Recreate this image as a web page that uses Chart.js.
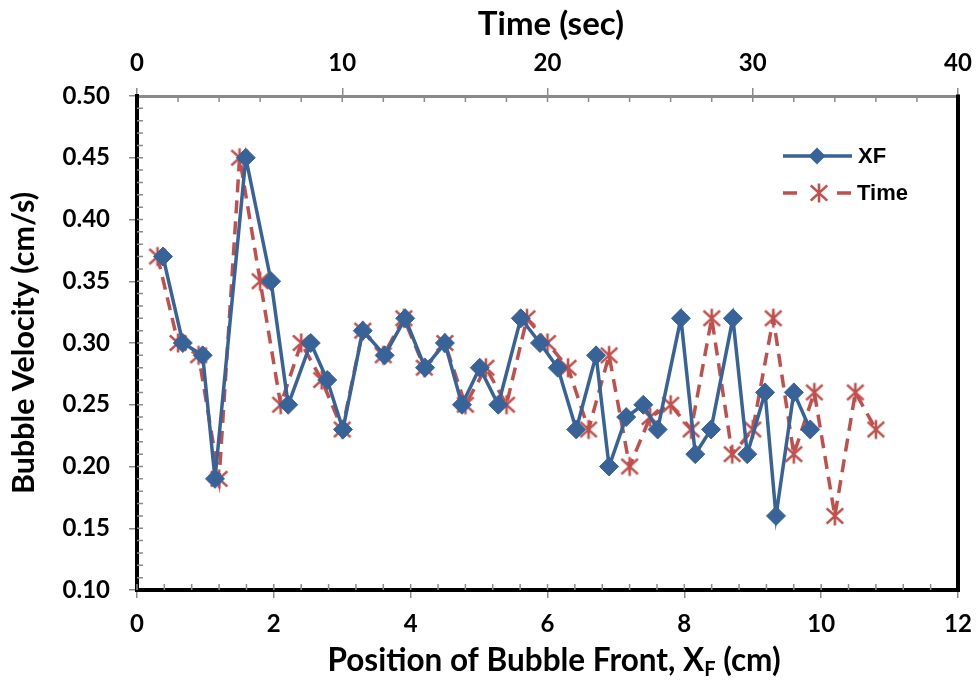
<!DOCTYPE html>
<html>
<head>
<meta charset="utf-8">
<script src="https://cdn.jsdelivr.net/npm/chart.js@4/dist/chart.umd.min.js"></script>
<style>
  html, body { margin: 0; padding: 0; background: #fff; }
  #wrap { width: 977px; height: 684px; position: relative; }
</style>
</head>
<body>
<div id="wrap"><canvas id="bubbleChart" width="977" height="684"></canvas></div>
<script>
// bubble velocity, the same readings plotted against front position and time
const velocity = [0.37, 0.30, 0.29, 0.19, 0.45, 0.35, 0.25, 0.30, 0.27, 0.23, 0.31, 0.29,
  0.32, 0.28, 0.30, 0.25, 0.28, 0.25, 0.32, 0.30, 0.28, 0.23, 0.29, 0.20,
  0.24, 0.25, 0.23, 0.32, 0.21, 0.23, 0.32, 0.21, 0.26, 0.16, 0.26, 0.23];
const frontPos = [0.38, 0.67, 0.96, 1.14, 1.59, 1.96, 2.21, 2.54, 2.78, 3.01, 3.30, 3.62,
  3.92, 4.21, 4.50, 4.75, 5.01, 5.28, 5.61, 5.89, 6.15, 6.42, 6.71, 6.90,
  7.15, 7.40, 7.61, 7.95, 8.16, 8.39, 8.71, 8.92, 9.18, 9.34, 9.60, 9.84];
const timeSec = [1, 2, 3, 4, 5, 6, 7, 8, 9, 10, 11, 12, 13, 14, 15, 16, 17, 18,
  19, 20, 21, 22, 23, 24, 25, 26, 27, 28, 29, 30, 31, 32, 33, 34, 35, 36];
const seriesNames = ["XF", "Time"];

const BLUE = "#386399";
const RED = "#c0504d";
const TICK_GRAY = "#8c8c8c";
const FAMILY = "Lato, 'Open Sans', sans-serif";
const tickFont = { family: FAMILY, size: 24, weight: "bold" };

// excel-like asterisk marker
function makeStar(size, color) {
  const c = document.createElement("canvas");
  c.width = size; c.height = size;
  const g = c.getContext("2d");
  const m = size / 2, r = size / 2 - 1.5;
  g.strokeStyle = color;
  g.lineWidth = 2.6;
  g.beginPath();
  g.moveTo(m, m - r); g.lineTo(m, m + r);
  g.moveTo(m - r * 0.87, m - r * 0.8); g.lineTo(m + r * 0.87, m + r * 0.8);
  g.moveTo(m + r * 0.87, m - r * 0.8); g.lineTo(m - r * 0.87, m + r * 0.8);
  g.stroke();
  return c;
}
const starImg = makeStar(22, RED);

function diamond(ctx, x, y, r) {
  ctx.beginPath();
  ctx.moveTo(x - r, y); ctx.lineTo(x, y - r);
  ctx.lineTo(x + r, y); ctx.lineTo(x, y + r);
  ctx.closePath();
}

// keep the plot box fixed: no extra side room for the end labels
function noSidePadding(scale) {
  scale.paddingLeft = 0;
  scale.paddingRight = 0;
}

// minor ticks, right frame, axis titles and legend
const decorations = {
  id: "decorations",
  afterDraw(chart) {
    const ctx = chart.ctx;
    const a = chart.chartArea;
    const { x, x2, y } = chart.scales;
    ctx.save();

    ctx.strokeStyle = TICK_GRAY;
    ctx.lineWidth = 1.5;
    ctx.beginPath();
    for (let i = 0; i <= 30; i++) {
      const px = x.getPixelForValue(i * 0.4);
      ctx.moveTo(px, a.bottom); ctx.lineTo(px, a.bottom - 6);
    }
    for (let i = 1; i < 20; i++) {
      const px = x2.getPixelForValue(i * 2);
      ctx.moveTo(px, a.top); ctx.lineTo(px, a.top + 6);
    }
    for (let i = 1; i < 40; i++) {
      const py = y.getPixelForValue(0.10 + i * 0.01);
      ctx.moveTo(a.left, py); ctx.lineTo(a.left + 6, py);
    }
    ctx.stroke();

    ctx.strokeStyle = "#000";
    ctx.lineWidth = 4;
    ctx.beginPath();
    ctx.moveTo(a.right, a.top - 1.5); ctx.lineTo(a.right, a.bottom + 2);
    ctx.stroke();

    ctx.fillStyle = "#000";
    ctx.textAlign = "center";
    ctx.textBaseline = "middle";
    ctx.font = "bold 33px " + FAMILY;
    ctx.fillText("Time (sec)", 551, 24);

    ctx.save();
    ctx.translate(24, 343);
    ctx.rotate(-Math.PI / 2);
    ctx.font = "bold 30.5px " + FAMILY;
    ctx.fillText("Bubble Velocity (cm/s)", 0, 0);
    ctx.restore();

    // x title with subscript F
    const big = "bold 31.5px " + FAMILY, small = "bold 20px " + FAMILY;
    const t1 = "Position of Bubble Front, X", sub = "F", t2 = " (cm)";
    ctx.textAlign = "left";
    ctx.font = big;
    const w1 = ctx.measureText(t1).width, w3 = ctx.measureText(t2).width;
    ctx.font = small;
    const w2 = ctx.measureText(sub).width;
    const sx = 554 - (w1 + w2 + w3) / 2;
    ctx.font = big;
    ctx.fillText(t1, sx, 661);
    ctx.font = small;
    ctx.fillText(sub, sx + w1, 670);
    ctx.font = big;
    ctx.fillText(t2, sx + w1 + w2, 661);

    // legend
    ctx.strokeStyle = BLUE;
    ctx.lineWidth = 3.5;
    ctx.beginPath();
    ctx.moveTo(783, 156); ctx.lineTo(852, 156);
    ctx.stroke();
    ctx.fillStyle = BLUE;
    diamond(ctx, 817, 156, 8.5);
    ctx.fill();

    ctx.strokeStyle = RED;
    ctx.beginPath();
    ctx.moveTo(783, 193); ctx.lineTo(797, 193);
    ctx.moveTo(837, 193); ctx.lineTo(851, 193);
    ctx.stroke();
    ctx.drawImage(starImg, 819 - 11, 193 - 11);

    ctx.fillStyle = "#000";
    ctx.font = "bold 22px 'Liberation Sans', Arial, sans-serif";
    ctx.textBaseline = "middle";
    ctx.fillText(seriesNames[0], 858, 157);
    ctx.fillText(seriesNames[1], 857, 194);
    ctx.restore();
  }
};

const ctx = document.getElementById("bubbleChart").getContext("2d");

new Chart(ctx, {
  type: "scatter",
  data: {
    datasets: [
      {
        label: seriesNames[0],
        data: frontPos.map((p, i) => ({ x: p, y: velocity[i] })),
        xAxisID: "x",
        yAxisID: "y",
        showLine: true,
        borderColor: BLUE,
        backgroundColor: BLUE,
        borderWidth: 3.5,
        pointStyle: "rectRot",
        pointRadius: 9.5,
        pointBorderWidth: 1,
        pointBorderColor: BLUE,
        pointBackgroundColor: BLUE,
      },
      {
        label: seriesNames[1],
        data: timeSec.map((t, i) => ({ x: t, y: velocity[i] })),
        xAxisID: "x2",
        yAxisID: "y",
        showLine: true,
        borderColor: RED,
        backgroundColor: RED,
        borderWidth: 3.5,
        borderDash: [13, 8],
        pointStyle: starImg,
        pointRadius: 10,
      },
    ],
  },
  options: {
    responsive: false,
    animation: false,
    layout: { padding: { top: 0, right: 19, bottom: 0, left: 0 } },
    plugins: {
      legend: { display: false },
      title: { display: false },
      tooltip: { enabled: false },
    },
    scales: {
      x: {
        type: "linear",
        position: "bottom",
        min: 0, max: 12,
        ticks: { stepSize: 2, padding: 12, color: "#000", font: tickFont, maxRotation: 0 },
        grid: { drawOnChartArea: false, drawTicks: true, tickLength: 8, color: TICK_GRAY, lineWidth: 1.5 },
        border: { display: true, color: "#000", width: 4 },
        afterFit(scale) { scale.height = 94; noSidePadding(scale); },
      },
      x2: {
        type: "linear",
        position: "top",
        min: 0, max: 40,
        ticks: { stepSize: 10, padding: 10, color: "#000", font: tickFont, maxRotation: 0 },
        grid: { drawOnChartArea: false, drawTicks: true, tickLength: 8, color: TICK_GRAY, lineWidth: 1.5 },
        border: { display: true, color: "#8a8a8a", width: 3 },
        afterFit(scale) { scale.height = 96; noSidePadding(scale); },
      },
      y: {
        type: "linear",
        position: "left",
        min: 0.10, max: 0.50,
        ticks: {
          stepSize: 0.05, padding: 19, color: "#000", font: tickFont,
          callback: (v) => v.toFixed(2),
        },
        grid: { drawOnChartArea: false, drawTicks: true, tickLength: 8, color: TICK_GRAY, lineWidth: 1.5 },
        border: { display: true, color: "#000", width: 4 },
        afterFit(scale) { scale.width = 137; },
      },
    },
  },
  plugins: [decorations],
});
</script>
</body>
</html>
